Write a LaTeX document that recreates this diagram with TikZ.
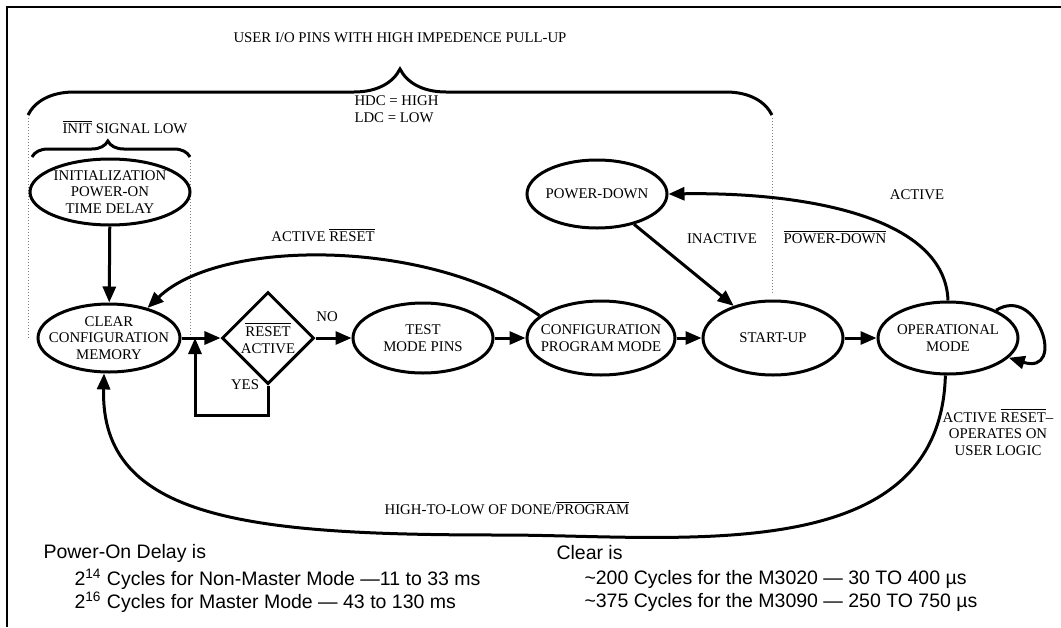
\documentclass[tikz,border=0pt]{standalone}
\usepackage{fontspec}
\setmainfont{Liberation Serif}
\setsansfont{Liberation Sans}
\usetikzlibrary{arrows.meta,shapes.geometric,decorations.pathreplacing}

\begin{document}
\begin{tikzpicture}[x=0.5pt,y=-0.5pt,line width=1.5pt,font=\fontsize{7.4}{8.3}\selectfont,
  st/.style={draw,ellipse,inner sep=-12pt,align=center},
  dec/.style={draw,diamond,inner sep=-12pt,minimum width=46pt,minimum height=46pt,align=center},
  arr/.style={-{Triangle[length=8pt,width=6.5pt]}},
  guide/.style={densely dotted,line width=0.5pt,gray},
  lab/.style={align=center,inner sep=0pt},
  note/.style={anchor=west,inner sep=0pt,font=\sffamily\fontsize{9.75}{12}\selectfont}]
\useasboundingbox (0,0) rectangle (1061,627);
\draw[line width=1.2pt] (1061,7) -- (7,7) -- (7,627);
\node[lab] (title) at (400,38) {USER I/O PINS WITH HIGH IMPEDENCE PULL-UP};
\draw[decorate,decoration={brace,amplitude=23pt,aspect=0.5}] (28,115) -- (772,115);
\node[lab,align=left,anchor=west] (hdc) at (353,109) {HDC = HIGH\\LDC = LOW};
\node[lab] (initlow) at (125,127) {$\overline{\mbox{INIT}}$ SIGNAL LOW};
\draw[decorate,decoration={brace,amplitude=8pt,aspect=0.48}] (32,157) -- (190,157);
\draw[guide] (28,118) -- (28,338);
\draw[guide] (190,160) -- (190,338);
\draw[guide] (772,118) -- (772,295);
\node[st,minimum width=80pt,minimum height=33pt] (init) at (110,192) {INITIALIZATION\\POWER-ON\\TIME DELAY};
\node[st,minimum width=71pt,minimum height=34pt] (clear) at (109,338) {CLEAR\\CONFIGURATION\\MEMORY};
\node[dec] (reset) at (268,338) {$\overline{\mbox{RESET}}$\\ACTIVE};
\node[st,minimum width=70pt,minimum height=35pt] (test) at (423,338) {TEST\\MODE PINS};
\node[st,minimum width=74pt,minimum height=37pt] (config) at (601,338) {CONFIGURATION\\PROGRAM MODE};
\node[st,minimum width=70pt,minimum height=37pt] (startup) at (773,338) {START-UP};
\node[st,minimum width=70pt,minimum height=36pt] (oper) at (948,338) {OPERATIONAL\\MODE};
\node[st,minimum width=70pt,minimum height=34pt] (pdown) at (597,194) {POWER-DOWN};
\coordinate (join) at (195,338);
\draw[arr] (init) -- (clear);
\draw[arr] (clear) -- (reset);
\draw[arr] (reset.south) -- ++(0,30) -| (join);
\draw[arr] (reset) -- (test);
\draw[arr] (test) -- (config);
\draw[arr] (config) -- (startup);
\draw[arr] (startup) -- (oper);
\draw[arr] (pdown) -- (startup);
\draw[arr] (oper.north) .. controls (945,215) and (800,192) .. (pdown.east);
\draw[arr] (config.160) .. controls (430,238) and (220,238) .. (clear.38);
\draw[arr] (oper.30) .. controls +(42,-26) and +(58,18) .. (oper.-18);
\draw[arr] (oper.266) .. controls (940,570) and (680,535) .. (500,535) .. controls (250,535) and (100,520) .. (clear.262);
\node[lab] (no) at (327,317) {NO};
\node[lab] (yes) at (245,385) {YES};
\node[lab] (actreset) at (323,235) {ACTIVE $\overline{\mbox{RESET}}$};
\node[lab] (inact) at (722,239) {INACTIVE};
\node[lab] (pdlab) at (835,237) {$\overline{\mbox{POWER-DOWN}}$};
\node[lab] (act) at (917,195) {ACTIVE};
\node[lab] (userlogic) at (998,432) {ACTIVE $\overline{\mbox{RESET}}$--\\OPERATES ON\\USER LOGIC};
\node[lab] (done) at (507,508) {HIGH-TO-LOW OF DONE/$\overline{\mbox{PROGRAM}}$};
\node[note] (pod) at (42,553) {Power-On Delay is};
\node[note] (pod1) at (73,579) {2\textsuperscript{14} Cycles for Non-Master Mode ---11 to 33 ms};
\node[note] (pod2) at (73,602) {2\textsuperscript{16} Cycles for Master Mode --- 43 to 130 ms};
\node[note] (clr) at (555,553) {Clear is};
\node[note] (clr1) at (583,579) {\textasciitilde200 Cycles for the M3020 --- 30 TO 400 µs};
\node[note] (clr2) at (583,602) {\textasciitilde375 Cycles for the M3090 --- 250 TO 750 µs};
\end{tikzpicture}
\end{document}
